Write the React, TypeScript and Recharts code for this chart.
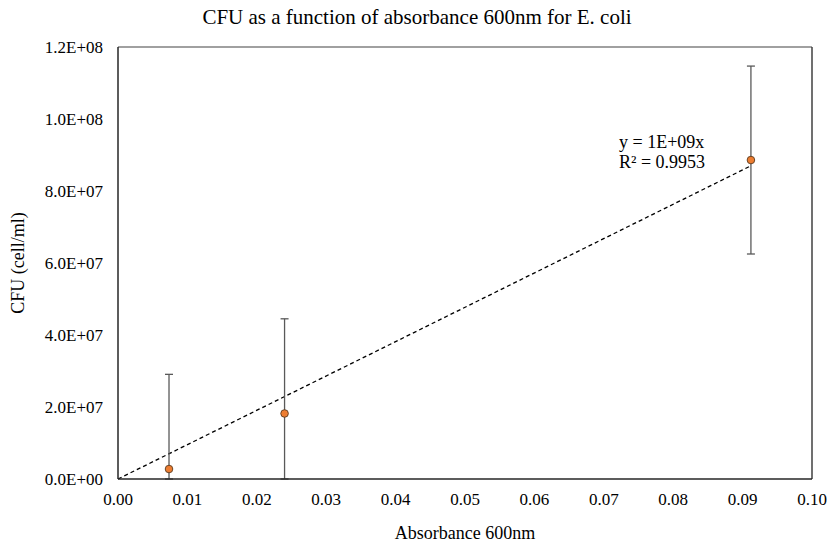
import React from 'react';
import { ScatterChart, Scatter, XAxis, YAxis, ErrorBar, ReferenceLine } from 'recharts';

// absorbance at 600nm vs. CFU counts
const absorbance = [0.00735, 0.024, 0.0912];
const cfu = [2.77e6, 1.82e7, 8.86e7];
const cfuError = [2.63e7, 2.63e7, 2.61e7];

const xTicks = [0, 0.01, 0.02, 0.03, 0.04, 0.05, 0.06, 0.07, 0.08, 0.09, 0.1];
const yTicks = [0, 2e7, 4e7, 6e7, 8e7, 1e8, 1.2e8];

// linear trendline through origin (end points)
const trendStart = { x: 0, y: 0 };
const trendEnd = { x: 0.0912, y: 8.7e7 };

// lower whisker stops at the axis like the clipped original
const points = absorbance.map((x, i) => ({
  x,
  y: cfu[i],
  err: [Math.min(cfuError[i], cfu[i]), cfuError[i]],
}));

const FONT = '"Liberation Serif", "Times New Roman", serif';

const fmtSci = (v: number) => {
  const [m, e] = v.toExponential(1).split('e');
  const n = Number(e);
  const sign = n < 0 ? '-' : '+';
  return `${m}E${sign}${String(Math.abs(n)).padStart(2, '0')}`;
};

const Dot = (props: any) => {
  const { cx, cy } = props;
  return <circle cx={cx} cy={cy} r={3.8} fill="#ED7D31" stroke="#5a3a1e" strokeWidth={0.9} />;
};

export default function App() {
  return (
    <div style={{ position: 'absolute', left: 0, top: 0, width: 831, height: 546, background: '#fff' }}>
      <ScatterChart width={831} height={546} margin={{ top: 47, right: 19, bottom: 0, left: 0 }}>
        <text x={417} y={17} textAnchor="middle" dominantBaseline="central" fontFamily={FONT} fontSize={21} fill="#000">
          CFU as a function of absorbance 600nm for E. coli
        </text>
        <XAxis
          type="number"
          dataKey="x"
          domain={[0, 0.1]}
          ticks={xTicks}
          allowDataOverflow
          tickFormatter={(v: number) => v.toFixed(2)}
          tickLine={false}
          tickSize={0}
          tickMargin={14}
          axisLine={{ stroke: '#262626', strokeWidth: 1.5 }}
          tick={{ fill: '#000', fontSize: 17, fontFamily: FONT }}
          height={67}
        />
        <YAxis
          type="number"
          dataKey="y"
          domain={[0, 1.2e8]}
          ticks={yTicks}
          allowDataOverflow
          tickFormatter={fmtSci}
          tickLine={false}
          tickSize={0}
          tickMargin={15}
          axisLine={{ stroke: '#262626', strokeWidth: 1.5 }}
          tick={{ fill: '#000', fontSize: 17, fontFamily: FONT }}
          width={118}
        />
        <ReferenceLine y={1.2e8} stroke="#808080" strokeWidth={1.5} />
        <ReferenceLine x={0.1} stroke="#404040" strokeWidth={1.5} />
        <ReferenceLine
          segment={[trendStart, trendEnd]}
          stroke="#000"
          strokeWidth={1.3}
          strokeDasharray="4 3"
        />
        <Scatter data={points} shape={<Dot />} isAnimationActive={false}>
          <ErrorBar dataKey="err" direction="y" width={4} stroke="#595959" strokeWidth={1.3} isAnimationActive={false} />
        </Scatter>
        <text x={619} y={142} dominantBaseline="central" fontFamily={FONT} fontSize={18} fill="#000">
          y = 1E+09x
        </text>
        <text x={619} y={162} dominantBaseline="central" fontFamily={FONT} fontSize={18} fill="#000">
          R² = 0.9953
        </text>
        <text x={465} y={533} textAnchor="middle" dominantBaseline="central" fontFamily={FONT} fontSize={18} fill="#000">
          Absorbance 600nm
        </text>
        <text
          x={18}
          y={263}
          textAnchor="middle"
          dominantBaseline="central"
          fontFamily={FONT}
          fontSize={18}
          fill="#000"
          transform="rotate(-90 18 263)"
        >
          CFU (cell/ml)
        </text>
      </ScatterChart>
    </div>
  );
}
